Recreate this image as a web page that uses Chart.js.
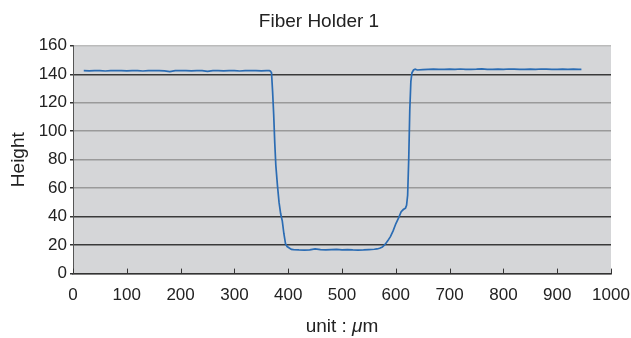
<!DOCTYPE html>
<html><head><meta charset="utf-8">
<script src="https://cdn.jsdelivr.net/npm/chart.js@4/dist/chart.umd.min.js"></script>
<style>html,body{margin:0;padding:0;background:#fff}#wrap{width:631px;height:338px}</style>
</head><body><div id="wrap"><canvas id="c" width="631" height="338"></canvas></div>
<script>
const titleText = "Fiber Holder 1";
const xTitleParts = ["unit : ", "\u03bc", "m"];
const yTitle = "Height";
const xTicks = [0,100,200,300,400,500,600,700,800,900,1000];
const yTicks = [0,20,40,60,80,100,120,140,160];
const darkGridValues = [20,40,140];

const positions = [20,30,40,50,60,70,80,90,100,110,120,130,140,150,160,170,180,190,200,210,220,230,240,250,260,270,280,290,300,310,320,330,340,350,360,
365,367,369,371,373,375,377,380,383,386,389,392,395,398,402,406,410,
420,430,440,450,460,470,480,490,500,510,520,530,540,550,560,
565,570,575,580,585,590,595,600,605,610,614,618,620,622,624,626,628,630,633,636,640,
650,660,670,680,690,700,710,720,730,740,750,760,770,780,790,800,810,820,830,840,850,860,870,880,890,900,910,920,930,940,945];
const heights = [142.6,142.4,142.5,142.6,142.3,142.5,142.6,142.5,142.4,142.6,142.5,142.3,142.6,142.5,142.5,142.4,141.9,142.6,142.5,142.5,142.4,142.6,142.5,142.0,142.5,142.6,142.4,142.5,142.6,142.3,142.5,142.6,142.5,142.4,142.5,
142.5,142.2,141,128,112,92,76,62,50,42,37,28,21,19,18,17,16.8,
16.6,16.5,16.7,17.4,16.8,16.6,16.9,17.0,16.7,16.8,16.6,16.5,16.6,16.9,17.1,
17.3,17.8,18.6,20.5,23,26,30,35,39,43.5,45,46,48,55,80,115,135,141,143,143.6,143.0,
143.3,143.5,143.6,143.4,143.5,143.6,143.4,143.7,143.5,143.5,143.6,143.8,143.5,143.4,143.6,143.5,143.7,143.6,143.5,143.4,143.6,143.5,143.7,143.6,143.4,143.5,143.6,143.5,143.6,143.4,143.5];

const FONT = 'Liberation Sans';

const bgPlugin = {
  id:'bg',
  beforeDraw(chart){
    const {ctx, chartArea:a} = chart;
    ctx.save();
    ctx.fillStyle = '#d5d6d8';
    ctx.fillRect(a.left, a.top, a.right-a.left, a.bottom-a.top);
    ctx.restore();
  },
  afterDatasetsDraw(chart){
    const {ctx, chartArea:a, scales} = chart;
    ctx.save();
    ctx.strokeStyle = '#333';
    ctx.lineWidth = 1;
    xTicks.forEach(v=>{
      const px = Math.round(scales.x.getPixelForValue(v))+0.5;
      ctx.beginPath(); ctx.moveTo(px, a.bottom); ctx.lineTo(px, a.bottom-5); ctx.stroke();
    });
    ctx.restore();
  },
  afterDraw(chart){
    const {ctx, chartArea:a} = chart;
    ctx.save();
    ctx.fillStyle = '#222';
    ctx.textBaseline = 'alphabetic';
    const fN = '19px "'+FONT+'"', fI = 'italic 19px "'+FONT+'"';
    const fonts = [fN, fI, fN];
    let widths = xTitleParts.map((t,i)=>{ctx.font=fonts[i]; return ctx.measureText(t).width;});
    const total = widths.reduce((s,w)=>s+w,0);
    let x = (a.left+a.right)/2 - total/2;
    const y = 332;
    xTitleParts.forEach((t,i)=>{ctx.font=fonts[i]; ctx.textAlign='left'; ctx.fillText(t,x,y); x+=widths[i];});
    ctx.restore();
  }
};

const data = positions.map((p,i)=>({x:p, y:heights[i]}));

new Chart(document.getElementById('c'), {
  type:'line',
  data:{datasets:[{data, borderColor:'#2b6cb3', borderWidth:1.7, pointRadius:0, tension:0, fill:false}]},
  options:{
    responsive:false, animation:false,
    layout:{padding:{left:7,right:0,top:6,bottom:20}},
    plugins:{
      legend:{display:false}, tooltip:{enabled:false},
      title:{display:true, text:titleText, color:'#222', font:{family:FONT, size:19, weight:'normal'}, padding:{top:4,bottom:13}}
    },
    scales:{
      x:{type:'linear', min:0, max:1000,
        afterBuildTicks(s){ s.ticks = xTicks.map(v=>({value:v})); },
        afterFit(s){ s.paddingRight = 20; },
        grid:{drawOnChartArea:false, drawTicks:false},
        border:{display:true, color:'#333', width:1.5},
        ticks:{color:'#222', font:{family:FONT, size:17}, padding:12, maxRotation:0, autoSkip:false, callback:(v)=>String(v)},
        title:{display:false}
      },
      y:{min:0, max:160,
        afterBuildTicks(s){ s.ticks = yTicks.map(v=>({value:v})); },
        afterFit(s){ s.width = 66; },
        grid:{color:(c)=> c.tick && darkGridValues.includes(c.tick.value) ? '#3a3a3a' : (c.tick && c.tick.value===160 ? '#bbb' : '#9a9a9a'), lineWidth:1.5, drawTicks:true, tickLength:3, tickColor:'#333'},
        border:{display:true, color:'#555', width:1},
        ticks:{color:'#222', font:{family:FONT, size:17}, padding:3},
        title:{display:true, text:yTitle, color:'#222', font:{family:FONT, size:19}, padding:{top:0,bottom:2}}
      }
    }
  },
  plugins:[bgPlugin]
});
</script></body></html>
